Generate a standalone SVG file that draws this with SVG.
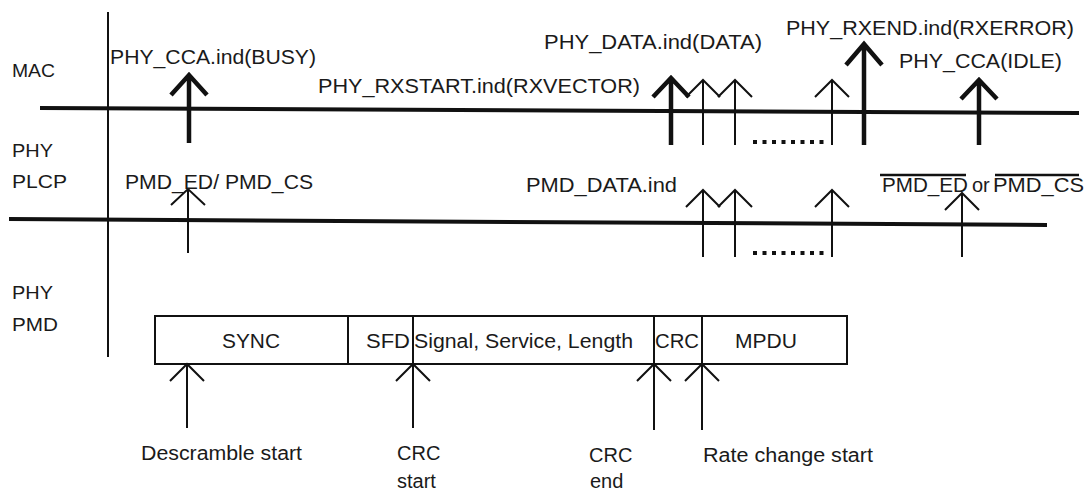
<svg xmlns="http://www.w3.org/2000/svg" width="1086" height="492" viewBox="0 0 1086 492">
<style>
text{font-family:"Liberation Sans",Arial,sans-serif;font-size:20px;fill:#1a1a1a}
.lbl{font-size:19px}
.ln{stroke:#111;fill:none}
.thick{stroke:#111;stroke-width:4.5;fill:none;stroke-linejoin:miter}
.thin{stroke:#111;stroke-width:2;fill:none}
.dots{stroke:#111;stroke-width:4;stroke-dasharray:4 5.5}
.box{fill:#fff;stroke:#111;stroke-width:2}
</style>
<rect width="1086" height="492" fill="#fff"/>
<g id="layers">
<line class="ln" x1="108" y1="12" x2="108" y2="357" stroke-width="2"/>
<line class="ln" x1="40" y1="108" x2="1079" y2="113" stroke-width="4"/>
<line class="ln" x1="9" y1="219" x2="1047" y2="225" stroke-width="4"/>
<text id="lbl-mac" class="lbl" x="12" y="77" textLength="43" lengthAdjust="spacingAndGlyphs">MAC</text>
<text id="lbl-phy1" class="lbl" x="12" y="157" textLength="41" lengthAdjust="spacingAndGlyphs">PHY</text>
<text id="lbl-plcp" class="lbl" x="12" y="188" textLength="55" lengthAdjust="spacingAndGlyphs">PLCP</text>
<text id="lbl-phy2" class="lbl" x="12" y="299" textLength="41" lengthAdjust="spacingAndGlyphs">PHY</text>
<text id="lbl-pmd" class="lbl" x="12" y="331" textLength="46" lengthAdjust="spacingAndGlyphs">PMD</text>
</g>
<g id="frame">
<rect class="box" x="155" y="316" width="692" height="48"/>
<line class="ln" x1="348" y1="316" x2="348" y2="364" stroke-width="2"/>
<line class="ln" x1="413" y1="316" x2="413" y2="364" stroke-width="2"/>
<line class="ln" x1="654" y1="316" x2="654" y2="364" stroke-width="2"/>
<line class="ln" x1="702" y1="316" x2="702" y2="364" stroke-width="2"/>
<g id="f-sync"><text x="222" y="348" textLength="58" lengthAdjust="spacingAndGlyphs">SYNC</text></g>
<g id="f-sfd"><text x="366" y="348" textLength="44" lengthAdjust="spacingAndGlyphs">SFD</text></g>
<g id="f-hdr"><text x="414" y="348" textLength="219" lengthAdjust="spacingAndGlyphs">Signal, Service, Length</text></g>
<g id="f-crc"><text x="655" y="348" textLength="44" lengthAdjust="spacingAndGlyphs">CRC</text></g>
<g id="f-mpdu"><text x="735" y="348" textLength="62" lengthAdjust="spacingAndGlyphs">MPDU</text></g>
</g>
<g id="connectors">
<path class="thick" d="M189,143V75M171,95L189,75L207,95"/>
<path class="thick" d="M671,145V78M653,97L671,78L689,97"/>
<path class="thin" d="M703,145V80M686,97L703,80L720,97"/>
<path class="thin" d="M735,145V80M718,97L735,80L752,97"/>
<path class="thin" d="M832,145V80M815,97L832,80L849,97"/>
<path class="thick" d="M864,145V44M846,65L864,44L882,65"/>
<path class="thick" d="M979,145V80M961,99L979,80L997,99"/>
<line class="dots" x1="753" y1="142" x2="824" y2="142"/>
<path class="thin" d="M188,253V189M171,205L188,189L205,205"/>
<path class="thin" d="M703,257V190M686,207L703,190L720,207"/>
<path class="thin" d="M735,257V190M718,207L735,190L752,207"/>
<path class="thin" d="M832,257V190M815,207L832,190L849,207"/>
<path class="thin" d="M962,257V193M945,210L962,193L979,210"/>
<line class="dots" x1="753" y1="253" x2="824" y2="253"/>
<path class="thin" d="M187,428V364M170,381L187,364L204,381"/>
<path class="thin" d="M413,428V364M396,381L413,364L430,381"/>
<path class="thin" d="M654,430V364M637,381L654,364L671,381"/>
<path class="thin" d="M702,430V364M685,381L702,364L719,381"/>
</g>
<g id="signals">
<text id="s-cca-busy" x="110" y="64" textLength="206" lengthAdjust="spacingAndGlyphs">PHY_CCA.ind(BUSY)</text>
<text id="s-rxstart" x="318" y="93" textLength="322" lengthAdjust="spacingAndGlyphs">PHY_RXSTART.ind(RXVECTOR)</text>
<text id="s-data" x="544" y="49" textLength="218" lengthAdjust="spacingAndGlyphs">PHY_DATA.ind(DATA)</text>
<text id="s-rxend" x="786" y="35" textLength="288" lengthAdjust="spacingAndGlyphs">PHY_RXEND.ind(RXERROR)</text>
<text id="s-idle" x="899" y="68" textLength="163" lengthAdjust="spacingAndGlyphs">PHY_CCA(IDLE)</text>
<text id="s-edcs" x="125" y="189" textLength="188" lengthAdjust="spacingAndGlyphs">PMD_ED/ PMD_CS</text>
<text id="s-pmddata" x="526" y="192" textLength="151" lengthAdjust="spacingAndGlyphs">PMD_DATA.ind</text>
<g id="s-notedcs">
<text x="882" y="192" textLength="86" lengthAdjust="spacingAndGlyphs">PMD_ED</text>
<text x="972" y="192">or</text>
<text x="993" y="192" textLength="91" lengthAdjust="spacingAndGlyphs">PMD_CS</text>
<line class="ln" x1="880" y1="175" x2="966" y2="175" stroke-width="2.5"/>
<line class="ln" x1="995" y1="175" x2="1079" y2="175" stroke-width="2.5"/>
</g>
</g>
<g id="points">
<text id="p-descr" x="141" y="460" textLength="161" lengthAdjust="spacingAndGlyphs">Descramble start</text>
<text id="p-crcs1" x="397" y="460">CRC</text>
<text id="p-crcs2" x="397" y="488">start</text>
<text id="p-crce1" x="589" y="462">CRC</text>
<text id="p-crce2" x="590" y="488">end</text>
<text id="p-rate" x="703" y="462" textLength="170" lengthAdjust="spacingAndGlyphs">Rate change start</text>
</g>
</svg>
